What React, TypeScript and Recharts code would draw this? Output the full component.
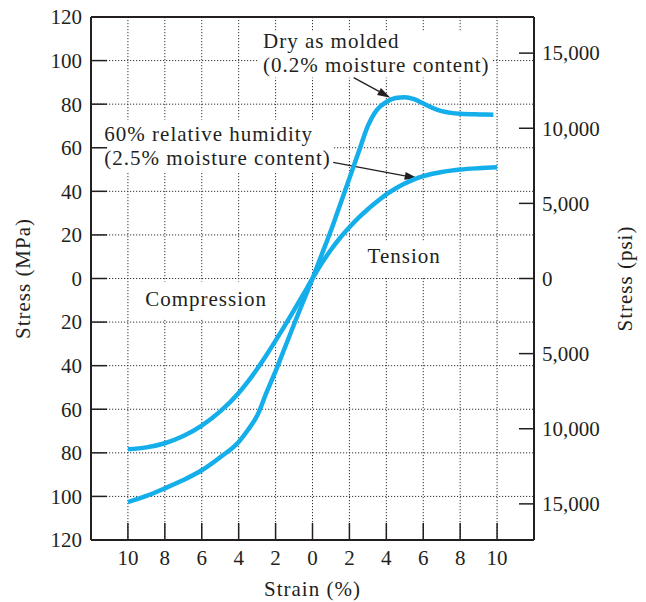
import React from 'react';
import { LineChart, Line, XAxis, YAxis, CartesianGrid, ReferenceArea, ReferenceLine } from 'recharts';

// ---- data ----
const strainTicks = [-10, -8, -6, -4, -2, 0, 2, 4, 6, 8, 10];
const stressTicksMPa = [-120, -100, -80, -60, -40, -20, 0, 20, 40, 60, 80, 100, 120];
const stressTicksPsi = [-15000, -10000, -5000, 0, 5000, 10000, 15000];
const PSI_PER_MPA = 145.038;

// Dry as molded (0.2% moisture content)
const dryStrain = [-10, -9, -8, -7, -6, -5, -4, -3.5, -3, -2.5, -2, -1.5, -1, -0.5, 0, 0.5, 1, 1.5, 2, 2.5, 3, 3.5, 4, 4.5, 5, 5.5, 6, 6.5, 7, 7.5, 8, 9, 9.8];
const dryStress = [-102.6, -99.8, -96.3, -92.5, -88, -82, -75, -69.5, -63, -52.5, -42.5, -31.8, -21, -10.5, 0, 11, 22, 34, 46, 58, 70, 77.5, 81, 82.8, 83.2, 82.3, 80.3, 78.3, 76.8, 76, 75.6, 75.3, 75.2];

// 60% relative humidity (2.5% moisture content)
const humidStrain = [-10, -9, -8, -7, -6, -5, -4, -3.5, -3, -2.5, -2, -1.5, -1, -0.5, 0, 0.5, 1, 1.5, 2, 2.5, 3, 3.5, 4, 4.5, 5, 5.5, 6, 6.5, 7, 7.5, 8, 9, 10];
const humidStress = [-78.4, -77.5, -75.6, -72.3, -67.5, -61, -52.5, -47.3, -41.5, -35.2, -28.5, -21.6, -14.5, -7.3, 0, 7, 13.2, 18.7, 23.5, 27.9, 31.8, 35.3, 38.6, 41.3, 43.6, 45.5, 47, 48.1, 48.9, 49.5, 50, 50.6, 51];

const dryData = dryStrain.map((s, i) => ({ strain: s, stress: dryStress[i] }));
const humidData = humidStrain.map((s, i) => ({ strain: s, stress: humidStress[i] }));

// ---- style ----
const INK = '#231F20';
const CURVE = '#14AEEA';
const FONT = "'Liberation Serif', 'Times New Roman', serif";
const FS = 21;

const fmtAbs = (v: number) => Math.abs(v).toLocaleString('en-US');

const LeftTick = (p: any) => (
  <g>
    <line x1={p.x} x2={p.x + 16} y1={p.y} y2={p.y} stroke={INK} strokeWidth={1.5} />
    <text x={p.x - 9} y={p.y} dy="0.35em" textAnchor="end" fontSize={FS} fontFamily={FONT} fill={INK}>
      {fmtAbs(p.payload.value)}
    </text>
  </g>
);

const RightTick = (p: any) => (
  <g>
    <line x1={p.x} x2={p.x - 15} y1={p.y} y2={p.y} stroke={INK} strokeWidth={1.5} />
    <text x={p.x + 8} y={p.y} dy="0.35em" textAnchor="start" fontSize={FS} fontFamily={FONT} fill={INK}>
      {fmtAbs(p.payload.value)}
    </text>
  </g>
);

const BottomTick = (p: any) => (
  <g>
    <line x1={p.x} x2={p.x} y1={p.y} y2={p.y - 17} stroke={INK} strokeWidth={1.5} />
    <text x={p.x} y={p.y + 25} textAnchor="middle" fontSize={FS} fontFamily={FONT} fill={INK}>
      {fmtAbs(p.payload.value)}
    </text>
  </g>
);

const textBox = (lines: string[], padX: number, baselines: number[]) => (p: any) => (
  <g>
    <rect x={p.x} y={p.y} width={p.width} height={p.height} fill="#fff" />
    {lines.map((t, i) => (
      <text key={i} x={p.x + padX} y={p.y + baselines[i]} fontSize={FS} fontFamily={FONT} fill={INK} letterSpacing={1}>
        {t}
      </text>
    ))}
  </g>
);

const arrowShape = (p: any) => {
  const { x1, y1, x2, y2 } = p;
  const ang = Math.atan2(y2 - y1, x2 - x1);
  const L = 13;
  const W = 4;
  const bx = x2 - L * Math.cos(ang);
  const by = y2 - L * Math.sin(ang);
  const px = -Math.sin(ang) * W;
  const py = Math.cos(ang) * W;
  return (
    <g>
      <line x1={x1} y1={y1} x2={bx} y2={by} stroke={INK} strokeWidth={1.3} />
      <polygon points={`${x2},${y2} ${bx + px},${by + py} ${bx - px},${by - py}`} fill={INK} />
    </g>
  );
};

const labelStyle = { fontSize: FS, fontFamily: FONT, fill: INK, letterSpacing: 1 };

export default function App() {
  return (
    <div style={{ position: 'absolute', left: 0, top: 0, background: '#fff' }}>
      <LineChart width={646} height={602} margin={{ top: 17, right: 0, bottom: 0, left: 0 }}>
        <CartesianGrid yAxisId="mpa" stroke="#333" strokeDasharray="1.2 1.8" strokeWidth={1} />
        <XAxis
          dataKey="strain"
          type="number"
          domain={[-12, 12]}
          allowDataOverflow
          ticks={strainTicks}
          interval={0}
          height={62}
          tickSize={0}
          tickMargin={0}
          tickLine={false}
          axisLine={{ stroke: INK, strokeWidth: 2 }}
          tick={BottomTick}
          label={{ value: 'Strain (%)', position: 'center', dy: 17.5, style: labelStyle }}
        />
        <YAxis
          yAxisId="mpa"
          type="number"
          domain={[-120, 120]}
          allowDataOverflow
          ticks={stressTicksMPa}
          interval={0}
          width={91}
          tickSize={0}
          tickMargin={0}
          tickLine={false}
          axisLine={{ stroke: INK, strokeWidth: 2 }}
          tick={LeftTick}
          label={{ value: 'Stress (MPa)', angle: -90, position: 'center', dx: -22.5, style: labelStyle }}
        />
        <YAxis
          yAxisId="psi"
          orientation="right"
          type="number"
          domain={[-120 * PSI_PER_MPA, 120 * PSI_PER_MPA]}
          allowDataOverflow
          ticks={stressTicksPsi}
          interval={0}
          width={112}
          tickSize={0}
          tickMargin={0}
          tickLine={false}
          axisLine={{ stroke: INK, strokeWidth: 2 }}
          tick={RightTick}
          label={{ value: 'Stress (psi)', angle: -90, position: 'center', dx: 35, style: labelStyle }}
        />
        <ReferenceLine yAxisId="mpa" y={120} stroke={INK} strokeWidth={2} />

        <ReferenceArea
          yAxisId="mpa" x1={-2.9} x2={9.75} y1={92.2} y2={113.3} ifOverflow="visible"
          shape={textBox(['Dry as molded', '(0.2% moisture content)'], 4, [16.7, 40.7])}
        />
        <ReferenceArea
          yAxisId="mpa" x1={-11.44} x2={1.12} y1={49.1} y2={72.9} ifOverflow="visible"
          shape={textBox(['60% relative humidity', '(2.5% moisture content)'], 3, [21.5, 45])}
        />
        <ReferenceArea
          yAxisId="mpa" x1={-9.28} x2={-2.25} y1={-18.3} y2={-1.4} ifOverflow="visible"
          shape={textBox(['Compression'], 4, [24])}
        />
        <ReferenceArea
          yAxisId="mpa" x1={2.66} x2={7.2} y1={0.9} y2={17} ifOverflow="visible"
          shape={textBox(['Tension'], 6, [22])}
        />

        <ReferenceLine
          yAxisId="mpa"
          segment={[{ x: 2.23, y: 92.2 }, { x: 4.22, y: 83 }]}
          shape={arrowShape}
          ifOverflow="visible"
        />
        <ReferenceLine
          yAxisId="mpa"
          segment={[{ x: 1.12, y: 53.3 }, { x: 5.7, y: 46 }]}
          shape={arrowShape}
          ifOverflow="visible"
        />

        <Line
          yAxisId="mpa"
          data={dryData}
          dataKey="stress"
          type="monotone"
          stroke={CURVE}
          strokeWidth={4.5}
          dot={false}
          isAnimationActive={false}
        />
        <Line
          yAxisId="mpa"
          data={humidData}
          dataKey="stress"
          type="monotone"
          stroke={CURVE}
          strokeWidth={4.5}
          dot={false}
          isAnimationActive={false}
        />
      </LineChart>
    </div>
  );
}
